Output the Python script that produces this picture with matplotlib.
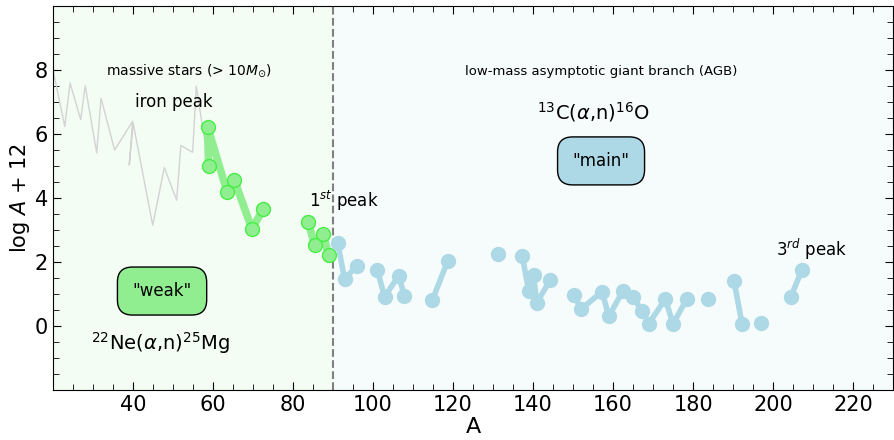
import numpy as np
import matplotlib.pyplot as plt

# solar abundances, light elements Ne..Co (Z order)
A_light = [20.18, 22.99, 24.31, 26.98, 28.09, 30.97, 32.06, 35.45, 39.95, 39.10,
           40.08, 44.96, 47.87, 50.94, 52.00, 54.94, 55.85, 58.93]
eps_light = [7.93, 6.24, 7.60, 6.45, 7.51, 5.41, 7.12, 5.50, 6.40, 5.03,
             6.34, 3.15, 4.95, 3.93, 5.64, 5.43, 7.50, 4.99]

# weak s-process: Co..Y (nan = no photospheric value)
A_weak = [58.93, 58.69, 63.55, 65.38, 69.72, 72.63, 74.92, 78.97, 79.90,
          83.80, 85.47, 87.62, 88.91]
eps_weak = [4.99, 6.22, 4.19, 4.56, 3.04, 3.65, np.nan, np.nan, np.nan,
            3.25, 2.52, 2.87, 2.21]

# main s-process: Zr..Pb
A_main = [91.22, 92.91, 95.95, 98.0, 101.07, 102.91, 106.42, 107.87, 112.41,
          114.82, 118.71, 121.76, 127.60, 126.90, 131.29, 132.91, 137.33,
          138.91, 140.12, 140.91, 144.24, 145.0, 150.36, 151.96, 157.25,
          158.93, 162.50, 164.93, 167.26, 168.93, 173.05, 174.97, 178.49,
          180.95, 183.84, 186.21, 190.23, 192.22, 195.08, 196.97, 200.59,
          204.38, 207.20]
eps_main = [2.58, 1.46, 1.88, np.nan, 1.75, 0.91, 1.57, 0.94, np.nan,
            0.80, 2.04, np.nan, np.nan, np.nan, 2.24, np.nan, 2.18,
            1.10, 1.58, 0.72, 1.42, np.nan, 0.96, 0.52, 1.07,
            0.30, 1.10, 0.91, 0.47, 0.07, 0.84, 0.07, 0.85,
            np.nan, 0.85, np.nan, 1.40, 0.07, np.nan, 0.10, np.nan,
            0.90, 1.75]

fig = plt.figure(figsize=(8.95, 4.4), dpi=100)
ax = fig.add_axes([0.059, 0.114, 0.939, 0.872])

ax.axvspan(20, 90, color="lightgreen", alpha=0.1, lw=0)
ax.axvspan(90, 230, color="lightblue", alpha=0.1, lw=0)
ax.axvline(90, color="gray", ls="--", lw=1.5)

ax.plot(A_light, eps_light, color="lightgray", lw=1)
ax.plot(A_weak, eps_weak, "o-", color="lightgreen", lw=5.5, ms=10,
        mec="#44ee44", mew=1)
ax.plot(A_main, eps_main, "o-", color="lightblue", lw=4, ms=10)

ax.text(54, 7.97, r"massive stars (> 10$M_{\odot}$)", ha="center", va="center", fontsize=10)
ax.text(50.3, 7.0, "iron peak", ha="center", va="center", fontsize=12)
ax.text(84.1, 3.9, r"1$^{st}$ peak", ha="left", va="center", fontsize=12)
ax.text(200.8, 2.4, r"3$^{rd}$ peak", ha="left", va="center", fontsize=12)
ax.text(157, 7.97, "low-mass asymptotic giant branch (AGB)", ha="center", va="center", fontsize=9.5)
ax.text(155, 6.7, r"$^{13}$C($\alpha$,n)$^{16}$O", ha="center", va="center", fontsize=14)
ax.text(46.8, -0.53, r"$^{22}$Ne($\alpha$,n)$^{25}$Mg", ha="center", va="center", fontsize=14)
ax.text(157, 5.16, '"main"', ha="center", va="center", fontsize=12,
        bbox=dict(boxstyle="round,pad=0.9", fc="lightblue", ec="black"))
ax.text(47.3, 1.09, '"weak"', ha="center", va="center", fontsize=12,
        bbox=dict(boxstyle="round,pad=0.9", fc="lightgreen", ec="black"))

ax.set_xlim(20, 230)
ax.set_ylim(-2, 10)
ax.set_xticks(np.arange(40, 230, 20))
ax.set_yticks([0, 2, 4, 6, 8])
ax.set_xticks(np.arange(20, 231, 5), minor=True)
ax.set_yticks(np.arange(-2, 10.1, 0.5), minor=True)
ax.tick_params(which="both", direction="in", top=True, right=True, labelsize=15)
ax.tick_params(which="major", length=6)
ax.tick_params(which="minor", length=4)
ax.set_xlabel("A", fontsize=16, labelpad=2)
ax.set_ylabel("log $A$ + 12", fontsize=15, labelpad=2)

fig.savefig("out.png", dpi=100)
